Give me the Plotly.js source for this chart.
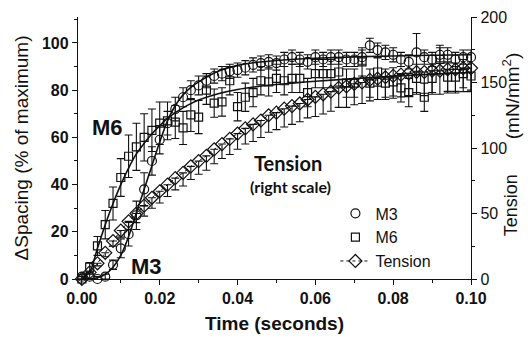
<!DOCTYPE html>
<html>
<head>
<meta charset="utf-8">
<script src="https://cdn.plot.ly/plotly-3.0.1.min.js"></script>
<style>
  html, body { margin: 0; padding: 0; background: #fff; }
  #chart { width: 528px; height: 339px; }
</style>
</head>
<body>
<div id="chart"></div>
<script>
// Sampling times (s)
var time = [0.000,0.002,0.004,0.006,0.008,0.010,0.012,0.014,0.016,0.018,
            0.020,0.022,0.024,0.026,0.028,0.030,0.032,0.034,0.036,0.038,
            0.040,0.042,0.044,0.046,0.048,0.050,0.052,0.054,0.056,0.058,
            0.060,0.062,0.064,0.066,0.068,0.070,0.072,0.074,0.076,0.078,
            0.080,0.082,0.084,0.086,0.088,0.090,0.092,0.094,0.096,0.098,0.100];

// M3 spacing change (% of maximum)
var m3 = [1,1,0,1,6,13,19,27,38,50,
          59,66,72,77,80,82,84,86,87,88,
          88.5,89.5,90.7,91.5,92,91.5,93,94,93,92,
          94,93,94,94,93,93,94,99,97,96,
          95,93,92,96,94,93,95,95,93,94,94];
var m3Err = [1,1,1,1,2,4,5,6,7,6,
             6,5,5,4,4,4,3,3,3,3,
             3,3,3,3,3,3,3,3,3,3,
             3,3,3,3,3,3,3,3,3,3,
             3,3,3,8,3,3,3,3,3,3,3];

// M6 spacing change (% of maximum)
var m6 = [0,5,14,23,32,43,52,56,60,63,
          66,67,66.5,64,69.5,68.6,80,74.5,75,84,
          73,77,79,84,83.5,85,84,85,85,79,
          87,87,87,87.7,83,83,92,83,87.7,83,
          83.5,81,79,85,77,85,93,85.5,85.5,87,86];
var m6Err = [1,2,4,6,7,8,9,10,10,9,
             9,8,7,7,7,7,6,6,6,6,
             6,6,6,6,6,6,6,6,6,6,
             6,6,6,6,6,6,6,6,6,6,
             6,6,6,6,6,6,6,6,6,6,6];

// Tension (mN/mm^2, right scale)
var tension = [0,5,12,20,29,37,44,50,56,62,
               67,72,77,81,86,90,94,99,103,107,
               111,115,118,121,125,127,130,132,134,137,
               139,141,143,146,147,149,150,152,153,154,
               155,156,157,158,158,159,159,160,160,161,161];
var tensionErr = [0,1,2,3,4,5,6,7,8,8,
                  9,9,9,10,10,10,11,11,11,12,
                  12,12,13,13,13,13,14,14,14,14,
                  15,15,15,15,16,16,16,16,16,17,
                  17,17,17,17,18,18,18,18,18,18,18];

// Fitted curves
var fitTime = [0,0.002,0.004,0.006,0.008,0.010,0.012,0.014,0.016,0.018,0.020,0.022,0.024,0.026,0.028,0.030,0.035,0.040,0.045,0.050,0.060,0.070,0.080,0.090,0.100];
var m3Fit = [0,0,0.5,2,5,10,18,28,38,48,58,67,73.5,78,81.2,83.5,88,90.5,91.8,92.6,93.5,94.1,94.5,94.8,95];
var m6Fit = [0,3,13,23,32,40,47,53,57.5,61.5,65,68,70.5,72.5,74.3,75.8,78.5,80.3,81.5,82.4,83.8,84.9,85.9,86.8,87.5];

var xTicks = [0,0.02,0.04,0.06,0.08,0.10];
var xTickText = ['0.00','0.02','0.04','0.06','0.08','0.10'];

var FONT = 'Liberation Sans, Arial, sans-serif';
var black = '#111';

var traces = [
  {x: fitTime, y: m3Fit, mode: 'lines', line: {color: black, width: 1.6, shape: 'spline'}, showlegend: false, hoverinfo: 'skip'},
  {x: fitTime, y: m6Fit, mode: 'lines', line: {color: black, width: 1.6, shape: 'spline'}, showlegend: false, hoverinfo: 'skip'},
  {x: time, y: tension, yaxis: 'y2', name: 'Tension', mode: 'lines+markers',
   line: {color: black, width: 1, dash: 'dot'},
   marker: {symbol: 'diamond-open', size: 10, color: black, line: {width: 1.2}},
   error_y: {type: 'data', symmetric: false, array: time.map(function(){return 0;}), arrayminus: tensionErr, color: black, thickness: 1.1, width: 4},
   cliponaxis: false},
  {x: time, y: m6, name: 'M6', mode: 'markers',
   marker: {symbol: 'square-open', size: 8, color: black, line: {width: 1.2}},
   error_y: {type: 'data', array: m6Err, color: black, thickness: 1.1, width: 4},
   cliponaxis: false},
  {x: time, y: m3, name: 'M3', mode: 'markers',
   marker: {symbol: 'circle-open', size: 9, color: black, line: {width: 1.2}},
   error_y: {type: 'data', array: m3Err, color: black, thickness: 1.1, width: 4},
   cliponaxis: false}
];

var layout = {
  width: 528, height: 339,
  margin: {l: 78, r: 57, t: 17, b: 60},
  paper_bgcolor: '#fff', plot_bgcolor: '#fff',
  font: {family: FONT, color: black},
  showlegend: true,
  legend: {
    x: 0.655, y: 0.315, xanchor: 'left', yanchor: 'top',
    traceorder: 'reversed',
    font: {family: FONT, size: 16, color: black},
    bgcolor: 'rgba(0,0,0,0)', itemwidth: 30
  },
  xaxis: {
    range: [-0.001, 0.1],
    tickvals: xTicks, ticktext: xTickText,
    ticks: 'outside', ticklen: 5, tickwidth: 1, tickcolor: black,
    minor: {dtick: 0.01, tick0: 0, ticks: 'outside', ticklen: 3, tickcolor: black},
    showline: true, linecolor: black, linewidth: 1.2,
    showgrid: false, zeroline: false,
    tickfont: {family: FONT, size: 16, weight: 'bold', color: black},
    title: {text: 'Time (seconds)', font: {family: FONT, size: 19, weight: 'bold', color: black}, standoff: 10}
  },
  yaxis: {
    range: [0, 111],
    tickvals: [0,20,40,60,80,100],
    ticks: 'outside', ticklen: 5, tickwidth: 1, tickcolor: black,
    minor: {dtick: 10, tick0: 0, ticks: 'outside', ticklen: 3, tickcolor: black},
    showline: true, linecolor: black, linewidth: 1.2,
    showgrid: false, zeroline: false,
    tickfont: {family: FONT, size: 16, weight: 'bold', color: black},
    title: {text: 'ΔSpacing (% of maximum)', font: {family: FONT, size: 19, color: black}, standoff: 8}
  },
  yaxis2: {
    overlaying: 'y', side: 'right', anchor: 'x',
    range: [0, 200],
    tickvals: [0,50,100,150,200],
    ticks: 'outside', ticklen: 5, tickwidth: 1, tickcolor: black,
    minor: {dtick: 25, tick0: 0, ticks: 'outside', ticklen: 3, tickcolor: black},
    showline: true, linecolor: black, linewidth: 1.2,
    showgrid: false, zeroline: false,
    tickfont: {family: FONT, size: 16, color: black}
  },
  annotations: [
    {text: 'Tension', x: 1.102, y: 0.282, xref: 'paper', yref: 'paper', textangle: -90,
     xanchor: 'center', yanchor: 'middle', showarrow: false, font: {family: FONT, size: 18, color: black}},
    {text: '(mN/mm<sup>2</sup>)', x: 1.102, y: 0.698, xref: 'paper', yref: 'paper', textangle: -90,
     xanchor: 'center', yanchor: 'middle', showarrow: false, font: {family: FONT, size: 19, color: black}},
    {text: '<b>M6</b>', x: 0.0067, y: 64, xref: 'x', yref: 'y', showarrow: false, font: {family: FONT, size: 22, color: black}},
    {text: '<b>M3</b>', x: 0.0165, y: 5.5, xref: 'x', yref: 'y', showarrow: false, font: {family: FONT, size: 22, color: black}},
    {text: '<b>Tension</b>', x: 0.053, y: 49, xref: 'x', yref: 'y', showarrow: false, font: {family: 'Lato, sans-serif', size: 20, color: black}},
    {text: '<b>(right scale)</b>', x: 0.0535, y: 39, xref: 'x', yref: 'y', showarrow: false, font: {family: 'Lato, sans-serif', size: 16, color: black}}
  ]
};

Plotly.newPlot('chart', traces, layout, {displayModeBar: false, staticPlot: true});
</script>
</body>
</html>
